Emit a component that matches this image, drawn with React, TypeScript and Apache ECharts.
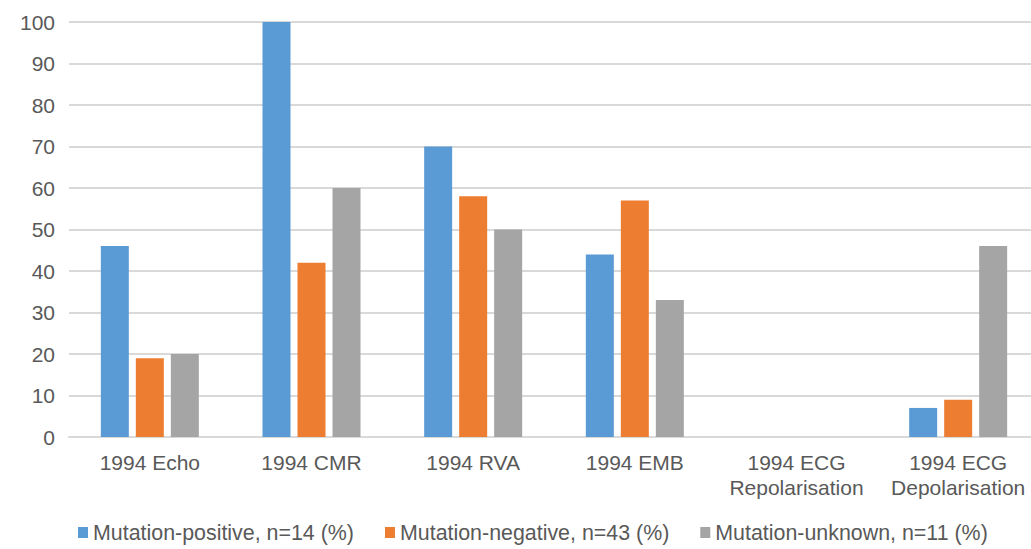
import React, { useEffect, useRef } from "react";
import * as echarts from "echarts";

const categories = [
  "1994 Echo",
  "1994 CMR",
  "1994 RVA",
  "1994 EMB",
  "1994 ECG\nRepolarisation",
  "1994 ECG\nDepolarisation",
];
const seriesNames = [
  "Mutation-positive, n=14 (%)",
  "Mutation-negative, n=43 (%)",
  "Mutation-unknown, n=11 (%)",
];
const positive = [46, 100, 70, 44, 0, 7];
const negative = [19, 42, 58, 57, 0, 9];
const unknown = [20, 60, 50, 33, 0, 46];
const colors = ["#5B9BD5", "#ED7D31", "#A5A5A5"];

export default function App() {
  const ref = useRef<HTMLDivElement>(null);
  useEffect(() => {
    if (!ref.current) return;
    const chart = echarts.init(ref.current, undefined, { renderer: "svg" });
    const font = "Liberation Sans, Arial, sans-serif";
    const data = [positive, negative, unknown];
    chart.setOption({
      animation: false,
      textStyle: { fontFamily: font },
      grid: { left: 69, right: 0, top: 22, bottom: 112, containLabel: false },
      legend: {
        top: 522,
        left: 78,
        padding: 0,
        itemWidth: 10,
        itemHeight: 11,
        itemGap: 31,
        icon: "rect",
        textStyle: { color: "#595959", fontSize: 21.4, fontFamily: font },
        data: seriesNames,
      },
      xAxis: {
        type: "category",
        data: categories,
        axisLine: { lineStyle: { color: "#D9D9D9", width: 2 } },
        axisTick: { show: false },
        axisLabel: {
          color: "#595959",
          fontSize: 21,
          lineHeight: 25,
          margin: 13,
          interval: 0,
          fontFamily: font,
        },
      },
      yAxis: {
        type: "value",
        min: 0,
        max: 100,
        interval: 10,
        axisLine: { show: false },
        axisTick: { show: false },
        splitLine: { lineStyle: { color: "#D9D9D9", width: 2 } },
        axisLabel: { color: "#595959", fontSize: 21, margin: 14, fontFamily: font },
      },
      series: data.map((d, i) => ({
        name: seriesNames[i],
        type: "bar",
        data: d,
        barWidth: 28,
        barGap: "25%",
        itemStyle: { color: colors[i] },
      })),
    });
    return () => chart.dispose();
  }, []);
  return (
    <div style={{ width: 1031, height: 549, position: "absolute", left: 0, top: 0, overflow: "hidden" }}>
      <div ref={ref} style={{ width: 1039, height: 549 }} />
    </div>
  );
}
